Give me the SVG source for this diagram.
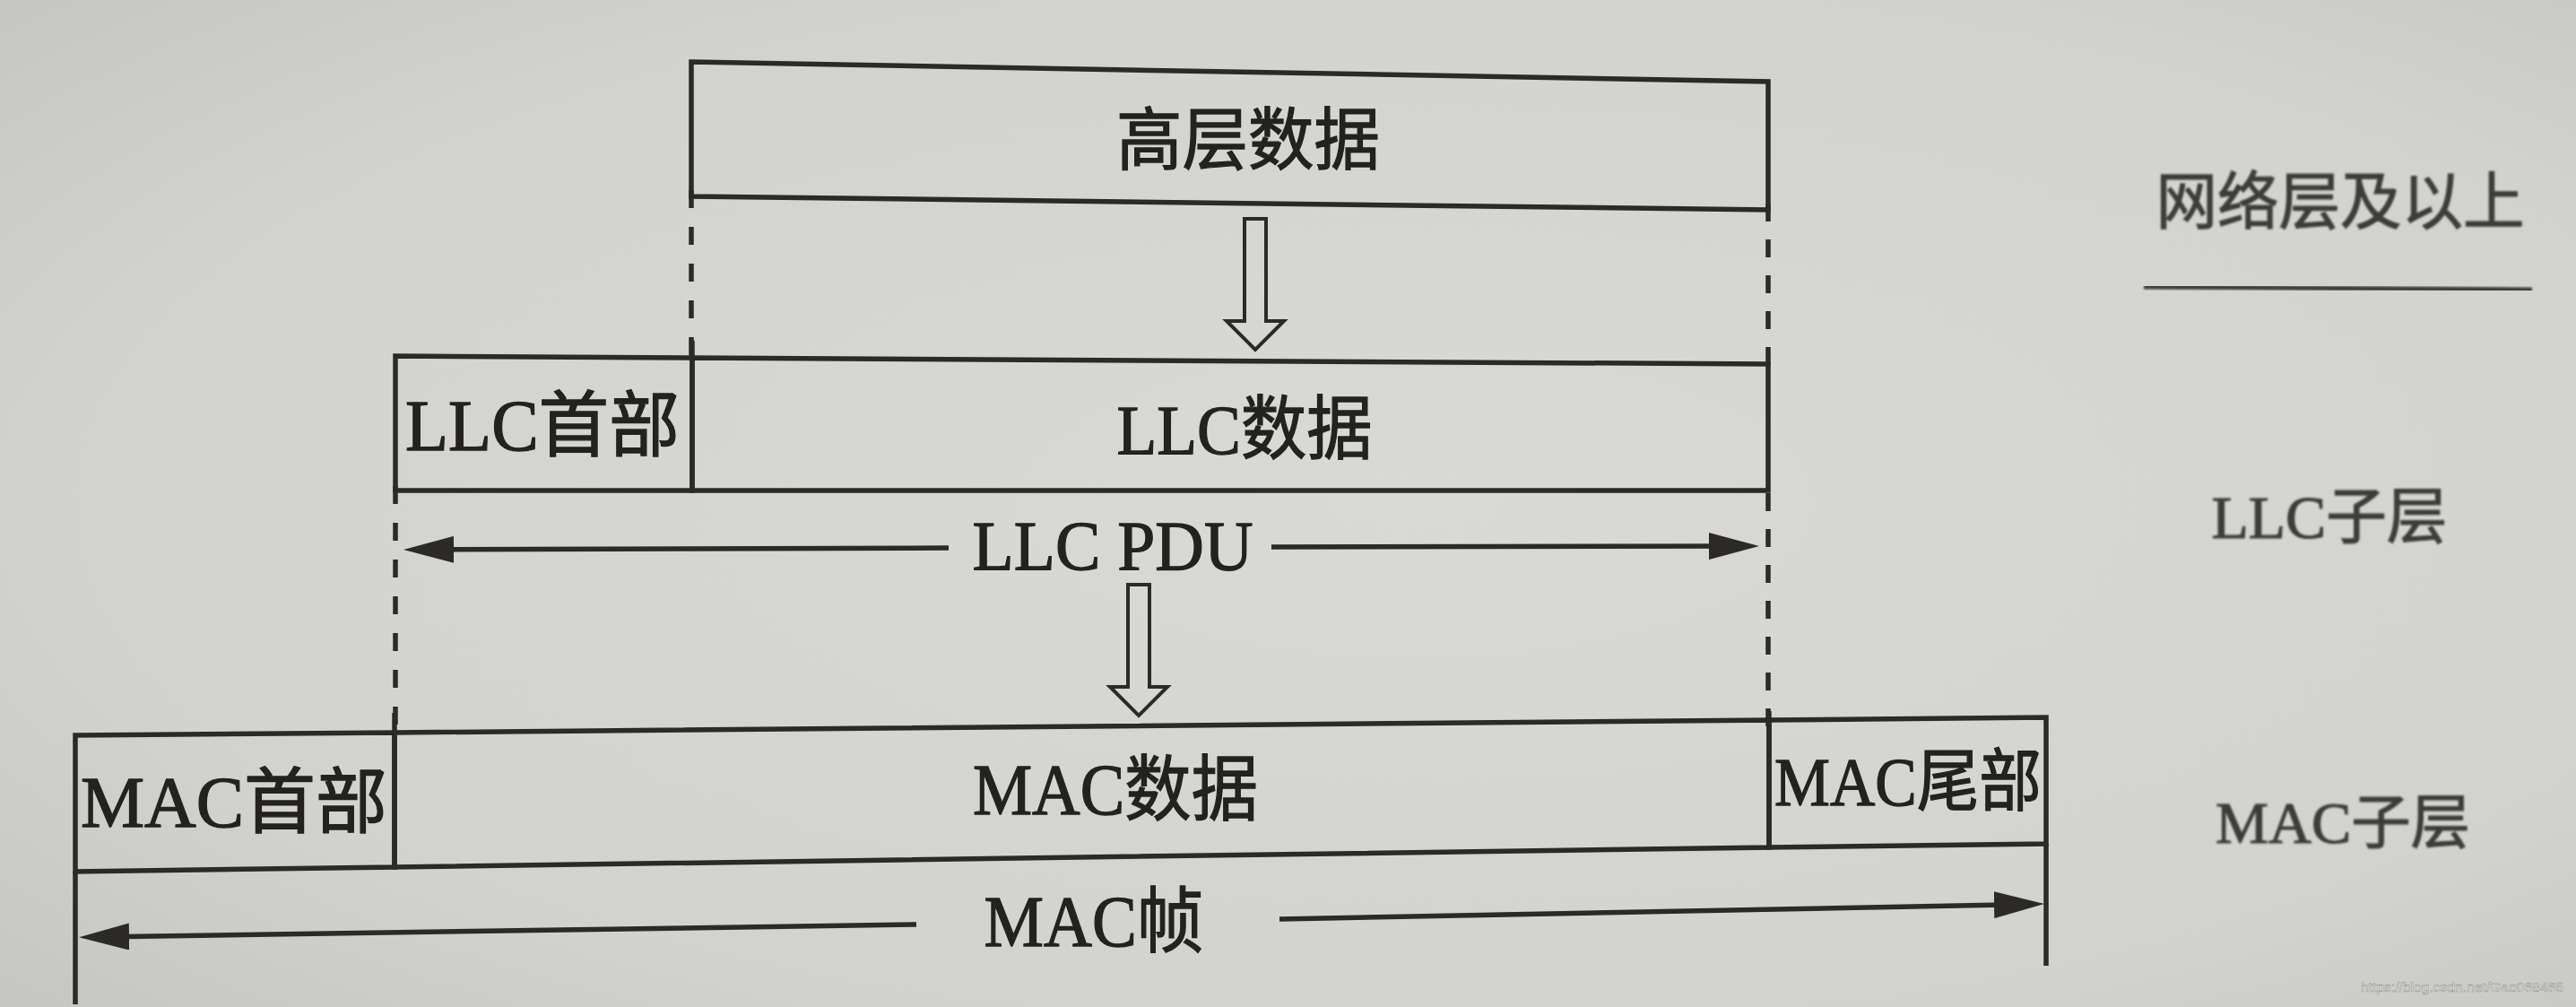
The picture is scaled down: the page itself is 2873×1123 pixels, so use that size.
<svg xmlns="http://www.w3.org/2000/svg" width="2873" height="1123" viewBox="0 0 2873 1123">
  <defs>
    <radialGradient id="paper" cx="0.55" cy="0.5" r="0.75">
      <stop offset="0" stop-color="#d9dad5"/>
      <stop offset="0.7" stop-color="#d2d3ce"/>
      <stop offset="1" stop-color="#c5c6c1"/>
    </radialGradient>
    <marker id="head" viewBox="0 0 56 30" refX="36" refY="15" markerWidth="56" markerHeight="30" markerUnits="userSpaceOnUse" orient="auto">
      <path d="M0,0 L56,15 L0,30 Z" fill="#2b2a27"/>
    </marker>
    <path id="hollow" d="M-12,0 H12 V114 H32 L0,146 L-32,114 H-12 Z"/>
    <filter id="soft" x="-5%" y="-20%" width="110%" height="140%">
      <feGaussianBlur stdDeviation="1.3"/>
    </filter>
  </defs>
  <style>
    .box { fill: none; stroke: #2b2a27; stroke-width: 5.5; stroke-linejoin: miter; }
    .ln { stroke: #2b2a27; stroke-width: 5.5; fill: none; }
    .dash { stroke: #2b2a27; stroke-width: 5.5; fill: none; stroke-dasharray: 20 21; }
    .arr { stroke: #2b2a27; stroke-width: 5.5; fill: none; marker-end: url(#head); }
    .down { fill: none; stroke: #2b2a27; stroke-width: 4; stroke-linejoin: miter; }
    .t { font-family: "Liberation Serif", "Noto Sans CJK SC", serif; fill: #232220; stroke: #232220; stroke-width: 1.3; text-anchor: middle; }
    .side { font-family: "Liberation Serif", "Noto Sans CJK SC", serif; fill: #3c3c39; stroke: #3c3c39; stroke-width: 1.2; text-anchor: middle; }
    .sideln { stroke: #3a3a37; stroke-width: 5; fill: none; }
    .wm { font-family: "Liberation Sans", "DejaVu Sans", sans-serif; fill: #f4f4f2; stroke: #8a8a86; stroke-width: 0.5; font-size: 15px; }
  </style>

  <rect x="0" y="0" width="2873" height="1123" fill="url(#paper)"/>

  <g id="high-data">
    <polygon class="box" points="771,69 1972,91 1972,234 771,219"/>
    <text class="t" x="1392" y="183" font-size="76" textLength="294" lengthAdjust="spacingAndGlyphs">高层数据</text>
  </g>

  <g id="llc-header">
    <polygon class="box" points="441,397 772,399 772,547 441,547"/>
    <text class="t" x="605" y="502" font-size="80" textLength="306" lengthAdjust="spacingAndGlyphs">LLC首部</text>
  </g>

  <g id="llc-data">
    <polygon class="box" points="772,399 1972,406 1972,547 772,547"/>
    <text class="t" x="1388" y="506" font-size="78" textLength="285" lengthAdjust="spacingAndGlyphs">LLC数据</text>
  </g>

  <g id="mac-header">
    <polygon class="box" points="84,820 440,817 440,967 84,972"/>
    <text class="t" x="261" y="922" font-size="80" textLength="342" lengthAdjust="spacingAndGlyphs">MAC首部</text>
  </g>

  <g id="mac-data">
    <polygon class="box" points="440,817 1973,803 1973,945 440,967"/>
    <text class="t" x="1244" y="908" font-size="80" textLength="318" lengthAdjust="spacingAndGlyphs">MAC数据</text>
  </g>

  <g id="mac-trailer">
    <polygon class="box" points="1973,803 2282,800 2282,941 1973,945"/>
    <text class="t" x="2128" y="898" font-size="76" textLength="298" lengthAdjust="spacingAndGlyphs">MAC尾部</text>
  </g>

  <g id="layer-labels">
    <text class="side" x="2610" y="250" font-size="70" textLength="411" lengthAdjust="spacingAndGlyphs" filter="url(#soft)">网络层及以上</text>
    <line class="sideln" x1="2391" y1="320" x2="2824" y2="323" filter="url(#soft)"/>
    <text class="side" x="2598" y="600" font-size="68" textLength="263" lengthAdjust="spacingAndGlyphs" filter="url(#soft)">LLC子层</text>
    <line class="sideln" x1="2391" y1="664" x2="2819" y2="664" filter="url(#soft)"/>
    <text class="side" x="2613" y="940" font-size="66" textLength="284" lengthAdjust="spacingAndGlyphs" filter="url(#soft)">MAC子层</text>
  </g>

  <g id="connectors">
    <line class="dash" x1="771" y1="212" x2="771" y2="400"/>
    <line class="dash" x1="1972" y1="227" x2="1972" y2="410" style="stroke-dasharray:20 20"/>
    <line class="dash" x1="441" y1="542" x2="441" y2="820"/>
    <line class="dash" x1="1972" y1="550" x2="1972" y2="810" style="stroke-dasharray:20 20"/>
    <line class="ln" x1="84" y1="972" x2="84" y2="1120"/>
    <line class="ln" x1="2282" y1="941" x2="2282" y2="1077"/>
    <line class="ln" x1="440" y1="795" x2="440" y2="820"/>
    <line class="ln" x1="1973" y1="793" x2="1973" y2="805"/>
    <line class="ln" x1="772" y1="380" x2="772" y2="400"/>

    <line class="arr" x1="1058" y1="611" x2="470" y2="613"/>
    <line class="arr" x1="1418" y1="610" x2="1942" y2="609"/>
    <text class="t" x="1241" y="635" font-size="79" textLength="313" lengthAdjust="spacingAndGlyphs">LLC PDU</text>

    <line class="arr" x1="1022" y1="1031" x2="108" y2="1045"/>
    <line class="arr" x1="1427" y1="1025" x2="2260" y2="1008.4"/>
    <text class="t" x="1220" y="1055" font-size="80" textLength="245" lengthAdjust="spacingAndGlyphs">MAC帧</text>

    <use href="#hollow" class="down" x="1400" y="244"/>
    <use href="#hollow" class="down" x="1270" y="652"/>
  </g>

  <text class="wm" x="2633" y="1106" textLength="226" lengthAdjust="spacingAndGlyphs">https://blog.csdn.net/Gao068465</text>
</svg>
